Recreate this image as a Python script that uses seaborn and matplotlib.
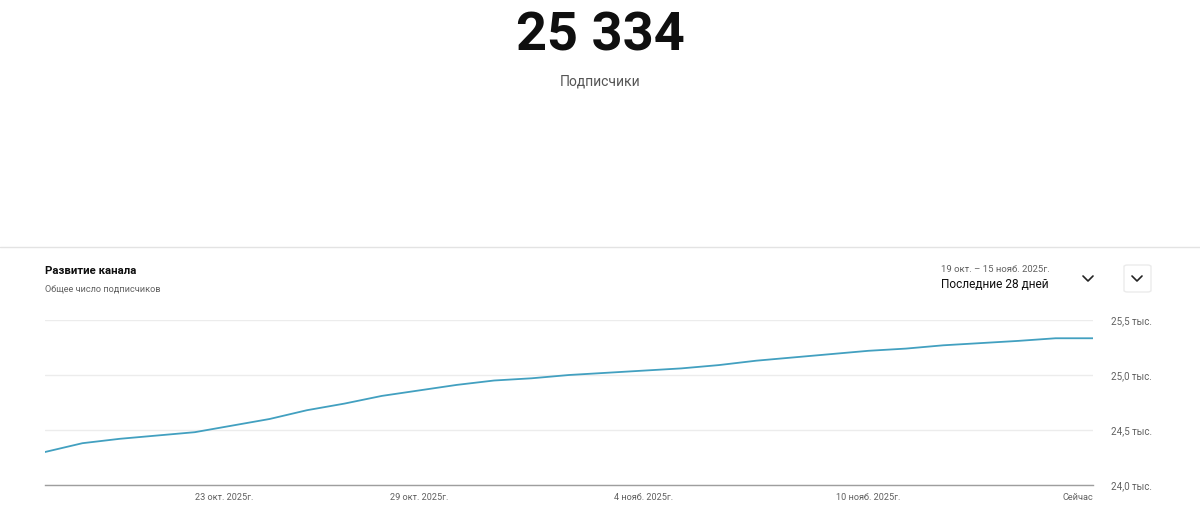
import matplotlib
matplotlib.use("Agg")
import matplotlib.pyplot as plt
import seaborn as sns
import pandas as pd
from matplotlib.lines import Line2D
from matplotlib.patches import FancyBboxPatch

# subscribers, thousands, one point per day (19 oct .. now)
day_index = list(range(29))
subscribers = [24.30, 24.38, 24.42, 24.45, 24.48, 24.54, 24.60, 24.68, 24.74, 24.81,
               24.86, 24.91, 24.95, 24.97, 25.00, 25.02, 25.04, 25.06, 25.09, 25.13,
               25.16, 25.19, 25.22, 25.24, 25.27, 25.29, 25.31, 25.334, 25.334]
tick_pos = [4, 10, 16, 22, 28]
tick_labels = ["23 окт. 2025г.", "29 окт. 2025г.", "4 нояб. 2025г.", "10 нояб. 2025г.", "Сейчас"]
y_ticks = [24.0, 24.5, 25.0, 25.5]
y_labels = ["24,0 тыс.", "24,5 тыс.", "25,0 тыс.", "25,5 тыс."]

df = pd.DataFrame({"day": day_index, "subs": subscribers})

sns.set_theme(style="white")
plt.rcParams["font.family"] = ["Roboto", "DejaVu Sans"]

W, H = 1200, 517
fig = plt.figure(figsize=(12, 5.17), dpi=100)

def fx(px):
    return px / W

def fy(py):
    return 1 - py / H

# header
fig.text(0.5, fy(36), "25 334", ha="center", va="center", fontsize=39,
         fontweight="bold", color="#0f0f0f")
fig.text(0.5, fy(82), "Подписчики", ha="center", va="center", fontsize=10,
         color="#555555")

# separator
fig.add_artist(Line2D([0, 1], [fy(247), fy(247)], color="#e3e3e3", lw=1))

fig.text(fx(45), fy(271), "Развитие канала", ha="left", va="center",
         fontsize=8.2, fontweight="bold", color="#0f0f0f")
fig.text(fx(45), fy(289), "Общее число подписчиков", ha="left", va="center",
         fontsize=6.6, color="#606060")
fig.text(fx(941), fy(269), "19 окт. – 15 нояб. 2025г.", ha="left", va="center",
         fontsize=6.8, color="#606060")
fig.text(fx(941), fy(284), "Последние 28 дней", ha="left", va="center",
         fontsize=8.6, color="#0f0f0f")

# dropdown chevrons
for cx in (1088, 1137):
    fig.add_artist(Line2D([fx(cx - 5), fx(cx), fx(cx + 5)],
                          [fy(276), fy(281), fy(276)], color="#222222", lw=1.2))
fig.add_artist(FancyBboxPatch((fx(1124), fy(292)), fx(27), 27 / H,
                              boxstyle="round,pad=0,rounding_size=0.003",
                              fc="none", ec="#ebebeb", lw=1))

# chart
ax = fig.add_axes([fx(45), fy(485), fx(1048), 165 / H])
sns.lineplot(data=df, x="day", y="subs", ax=ax, color="#42a0c0", linewidth=1.3)
ax.set_xlim(0, 28)
ax.set_ylim(24.0, 25.5)
ax.set_xlabel("")
ax.set_ylabel("")
ax.set_yticks(y_ticks)
ax.set_yticklabels(y_labels)
ax.yaxis.tick_right()
ax.tick_params(axis="y", length=0, pad=13, labelsize=7, labelcolor="#606060")
for t in ax.get_yticklabels():
    t.set_ha("left")
ax.set_xticks(tick_pos)
ax.set_xticklabels(tick_labels)
ax.tick_params(axis="x", length=0, pad=6, labelsize=6.6, labelcolor="#606060")
xl = ax.get_xticklabels()
xl[0].set_ha("left")
xl[-1].set_ha("right")
ax.grid(axis="y", color="#ececec", lw=1)
ax.grid(axis="x", visible=False)
for s in ("top", "left", "right"):
    ax.spines[s].set_visible(False)
ax.spines["bottom"].set_color("#9e9e9e")
ax.spines["bottom"].set_linewidth(1)

fig.savefig("out.png", dpi=100, facecolor="white")
